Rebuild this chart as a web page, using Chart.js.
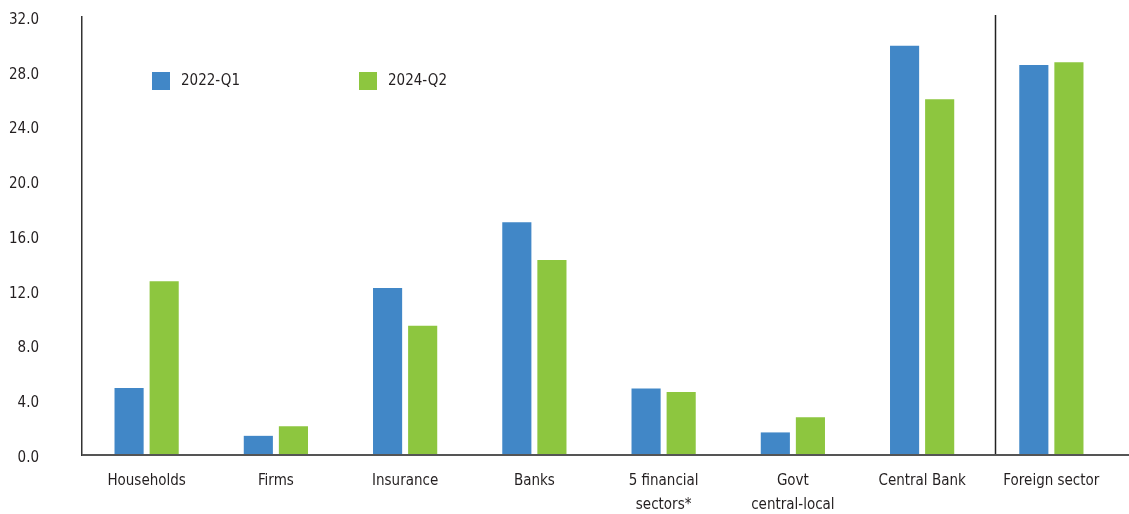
<!DOCTYPE html>
<html>
<head>
<meta charset="utf-8">
<script src="https://cdn.jsdelivr.net/npm/chart.js@4"></script>
<style>
  html, body { margin: 0; padding: 0; background: #fff; }
  #wrap { width: 1129px; height: 514px; }
</style>
</head>
<body>
<div id="wrap"><canvas id="myChart" width="1129" height="514"></canvas></div>
<script>
// categories y valores
const categories = ["Households", "Firms", "Insurance", "Banks", ["5 financial", "sectors*"], ["Govt", "central-local"], "Central Bank", "Foreign sector"];
const seriesNames = ["2022-Q1", "2024-Q2"];
const q1_2022 = [4.9, 1.4, 12.2, 17.0, 4.85, 1.65, 29.9, 28.5];
const q2_2024 = [12.7, 2.1, 9.45, 14.25, 4.6, 2.75, 26.0, 28.7];
const yTicks = [0, 4, 8, 12, 16, 20, 24, 28, 32];

const FONT = "'DejaVu Sans Condensed', 'Liberation Sans Narrow', sans-serif";
const TEXT = "#231f20";

// leyenda dentro del area del grafico
const legendInside = {
  id: "legendInside",
  afterDraw(chart) {
    const ctx = chart.ctx;
    const left = chart.chartArea.left;
    const offsets = [70, 277];
    ctx.save();
    ctx.font = "15px " + FONT;
    ctx.textBaseline = "middle";
    chart.data.datasets.forEach((ds, i) => {
      const x = left + offsets[i];
      ctx.fillStyle = ds.backgroundColor;
      ctx.fillRect(x, 72, 18, 18);
      ctx.fillStyle = TEXT;
      ctx.fillText(ds.label, x + 29, 81);
    });
    ctx.restore();
  }
};

// linea separadora y eje x hasta el borde
const extras = {
  id: "extras",
  afterDatasetsDraw(chart) {
    const ctx = chart.ctx;
    const xs = chart.scales.x;
    const ys = chart.scales.y;
    const sepX = Math.round(xs.getPixelForValue(6.56)) + 0.5;
    ctx.save();
    ctx.strokeStyle = "#222";
    ctx.lineWidth = 1.5;
    ctx.beginPath();
    ctx.moveTo(sepX, ys.getPixelForValue(32) - 2);
    ctx.lineTo(sepX, ys.getPixelForValue(0));
    ctx.stroke();
    ctx.strokeStyle = "#555";
    ctx.lineWidth = 2;
    ctx.beginPath();
    ctx.moveTo(chart.chartArea.left, ys.getPixelForValue(0));
    ctx.lineTo(chart.width, ys.getPixelForValue(0));
    ctx.stroke();
    ctx.restore();
  }
};

let grafico = document.getElementById("myChart").getContext("2d");

let myChart = new Chart(grafico, {
  type: "bar",
  data: {
    labels: categories,
    datasets: [
      {
        label: seriesNames[0],
        data: q1_2022,
        backgroundColor: "#4187c7",
        borderWidth: 0,
        barPercentage: 0.83,
        categoryPercentage: 0.543
      },
      {
        label: seriesNames[1],
        data: q2_2024,
        backgroundColor: "#8dc63f",
        borderWidth: 0,
        barPercentage: 0.83,
        categoryPercentage: 0.543
      }
    ]
  },
  options: {
    responsive: false,
    animation: false,
    layout: { padding: { top: 17, right: 13, bottom: 0, left: 0 } },
    plugins: {
      legend: { display: false },
      tooltip: { enabled: false }
    },
    scales: {
      x: {
        afterFit(scale) { scale.height = 59; },
        grid: { display: false, drawTicks: false },
        border: { display: false },
        ticks: {
          color: TEXT,
          font: { family: FONT, size: 15, lineHeight: 1.6 },
          padding: 14,
          maxRotation: 0,
          autoSkip: false
        }
      },
      y: {
        min: 0,
        max: 32,
        afterFit(scale) { scale.width = 82; },
        afterBuildTicks(scale) { scale.ticks = yTicks.map(v => ({ value: v })); },
        // marcas invisibles: solo sirven para separar las etiquetas del eje
        grid: { display: false, drawTicks: true, tickLength: 40 },
        border: { display: true, color: "#333", width: 1.5 },
        ticks: {
          color: TEXT,
          font: { family: FONT, size: 15 },
          padding: 3,
          labelOffset: 3,
          callback: v => v.toFixed(1)
        }
      }
    }
  },
  plugins: [legendInside, extras]
});
</script>
</body>
</html>
